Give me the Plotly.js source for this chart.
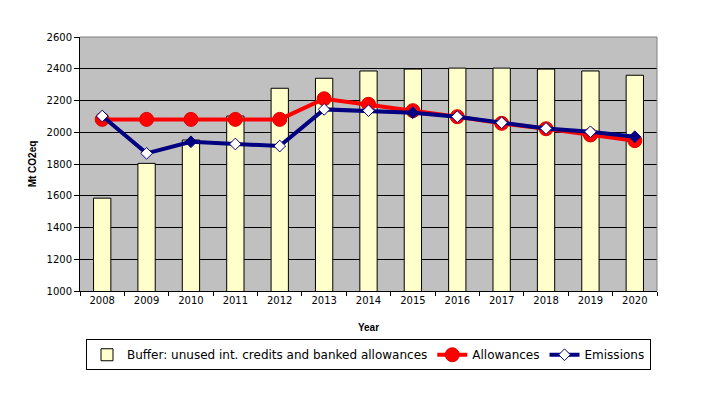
<!DOCTYPE html>
<html>
<head>
<meta charset="utf-8">
<script src="https://cdn.plot.ly/plotly-3.0.1.min.js"></script>
<style>html,body{margin:0;padding:0;background:#fff;}#chart{width:701px;height:398px;}</style>
</head>
<body>
<div id="chart"></div>
<script>
var years = ['2008','2009','2010','2011','2012','2013','2014','2015','2016','2017','2018','2019','2020'];
var buffer = [1585, 1804, 1951, 2102, 2277, 2340, 2386, 2398, 2404, 2404, 2398, 2386, 2359];
var allowances = [2081, 2081, 2081, 2081, 2081, 2211, 2176, 2136, 2098, 2056, 2022, 1983, 1947];
var emissions = [2102, 1867, 1940, 1926, 1913, 2144, 2136, 2123, 2098, 2060, 2024, 2003, 1972];
var emissionsFilled = [false, false, true, false, false, false, false, true, false, false, false, false, true];

var traces = [
  {
    type: 'bar', x: years, y: buffer, name: 'Buffer: unused int. credits and banked allowances',
    marker: {color: '#FFFFCC', line: {color: '#000000', width: 1}}
  },
  {
    type: 'scatter', mode: 'lines+markers', x: years, y: allowances, name: 'Allowances',
    line: {color: '#FF0000', width: 4},
    marker: {symbol: 'circle', size: 14, color: '#FF0000', line: {color: '#E00000', width: 1}}
  },
  {
    type: 'scatter', mode: 'lines+markers', x: years, y: emissions, name: 'Emissions',
    line: {color: '#000080', width: 4},
    marker: {symbol: 'diamond', size: 9,
      color: emissionsFilled.map(function(f){return f ? '#000080' : '#FFFFFF';}),
      line: {color: '#000080', width: 1}}
  }
];

var tickFont = {family: '"DejaVu Sans", Arial, sans-serif', size: 10, color: '#000'};

var layout = {
  width: 701, height: 398,
  margin: {l: 80, r: 44, t: 37, b: 107},
  paper_bgcolor: '#FFFFFF',
  plot_bgcolor: '#C0C0C0',
  font: {family: 'Arial, "Liberation Sans", sans-serif', size: 10, color: '#000'},
  bargap: 0.61,
  showlegend: true,
  legend: {
    orientation: 'h', x: 0.5, xanchor: 'center', y: -0.19, yanchor: 'top',
    bordercolor: '#000', borderwidth: 1, bgcolor: '#FFF',
    font: {size: 12, family: '"DejaVu Sans", Arial, sans-serif'},
    traceorder: 'normal', itemwidth: 30
  },
  xaxis: {
    type: 'category', range: [-0.5, 12.5],
    title: {text: '<b>Year</b>', font: {size: 10}, standoff: 18},
    showline: true, linecolor: '#000', linewidth: 1,
    ticks: 'outside', tickson: 'boundaries', ticklen: 4, tickcolor: '#000',
    showgrid: false, tickfont: tickFont
  },
  yaxis: {
    range: [1000, 2600], dtick: 200, tick0: 1000,
    title: {text: '<b>Mt CO2eq</b>', font: {size: 10}, standoff: 8},
    showline: true, linecolor: '#000', linewidth: 1,
    ticks: 'outside', ticklen: 5, tickcolor: '#000',
    showgrid: true, gridcolor: '#000', gridwidth: 1,
    zeroline: false, tickfont: tickFont
  },
  shapes: [
    {type: 'line', xref: 'paper', yref: 'paper', x0: 0, x1: 1, y0: 1, y1: 1, line: {color: '#808080', width: 1}},
    {type: 'line', xref: 'paper', yref: 'paper', x0: 1, x1: 1, y0: 0, y1: 1, line: {color: '#808080', width: 1}}
  ]
};

Plotly.newPlot('chart', traces, layout, {displayModeBar: false, staticPlot: true});
</script>
</body>
</html>
